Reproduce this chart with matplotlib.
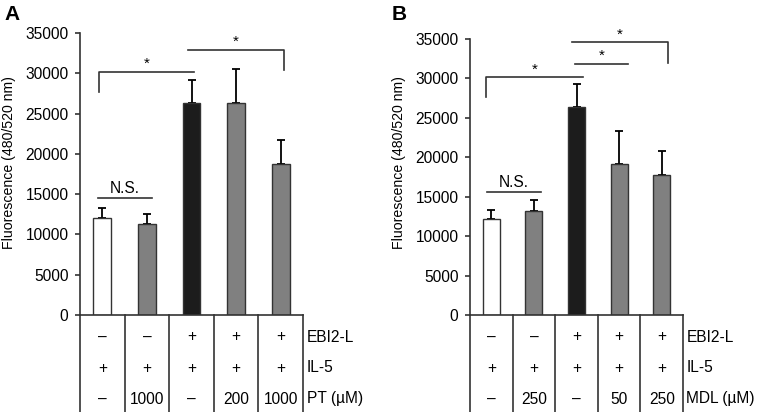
import matplotlib.pyplot as plt
import numpy as np

plt.rcParams['font.family'] = ['Liberation Sans', 'DejaVu Sans']

# panel A data
a_means = [12100, 11300, 26300, 26300, 18700]
a_errs = [1150, 1250, 2850, 4200, 3000]
a_colors = ['white', '#808080', '#1c1c1c', '#808080', '#808080']
a_ebi2 = ['\u2013', '\u2013', '+', '+', '+']
a_il5 = ['+', '+', '+', '+', '+']
a_drug = ['\u2013', '1000', '\u2013', '200', '1000']
a_drug_label = 'PT (\u00b5M)'

# panel B data
b_means = [12150, 13250, 26350, 19100, 17800]
b_errs = [1150, 1300, 2900, 4200, 3000]
b_colors = ['white', '#808080', '#1c1c1c', '#808080', '#808080']
b_ebi2 = ['\u2013', '\u2013', '+', '+', '+']
b_il5 = ['+', '+', '+', '+', '+']
b_drug = ['\u2013', '250', '\u2013', '50', '250']
b_drug_label = 'MDL (\u00b5M)'

W, H = 767, 412
fig = plt.figure(figsize=(W / 100, H / 100), dpi=100)
FS = 11.2


def px_axes(x0, x1, ytop, ybot):
    return fig.add_axes([x0 / W, 1 - ybot / H, (x1 - x0) / W, (ybot - ytop) / H])


def draw_panel(ax, means, errs, colors, ebi2, il5, drug, drug_label,
               ns, brackets, ppx, label_xy):
    # ppx: data units per pixel
    lc = '#333333'
    x = np.arange(len(means))
    ax.bar(x, means, width=0.4, color=colors, edgecolor=lc, linewidth=1.0, zorder=2)
    ax.errorbar(x, means, yerr=[np.zeros(len(errs)), errs], fmt='none',
                ecolor='black', elinewidth=1.3, capsize=3.2, capthick=1.3, zorder=1)
    ax.set_xlim(-0.5, len(means) - 0.5)
    ax.set_ylim(0, 35000)
    ax.set_yticks(np.arange(0, 35001, 5000))
    ax.set_xticks([])
    for s in ['top', 'right']:
        ax.spines[s].set_visible(False)
    for s in ['left', 'bottom']:
        ax.spines[s].set_color(lc)
        ax.spines[s].set_linewidth(1.2)
    ax.tick_params(axis='y', length=3.8, width=1.2, color=lc, labelsize=FS, pad=4.5)
    ax.set_ylabel('Fluorescence (480/520 nm)', fontsize=10.2)
    ax.yaxis.set_label_coords(*label_xy)

    # table below the axis
    ybot = -100 * ppx
    kw = dict(color=lc, lw=1.2, clip_on=False)
    for b in np.arange(len(means) + 1) - 0.5:
        ax.plot([b, b], [0, ybot], **kw)
    rows = [(-22 * ppx, ebi2, 'EBI2-L'),
            (-53 * ppx, il5, 'IL-5'),
            (-84 * ppx, drug, drug_label)]
    for y, vals, lab in rows:
        for i, v in enumerate(vals):
            ax.text(i, y, v, ha='center', va='center', fontsize=FS)
        ax.text(len(means) - 0.5 + 0.08, y, lab, ha='left', va='center', fontsize=FS)

    # N.S. line
    (n0, n1, ny) = ns
    ax.plot([n0, n1], [ny, ny], color=lc, lw=1.2, clip_on=False)
    ax.text((n0 + n1) / 2, ny + 300, 'N.S.', ha='center', va='bottom', fontsize=FS)

    # significance brackets
    for (b0, b1, by, lleg, rleg) in brackets:
        xs, ys = [b0, b1], [by, by]
        if lleg is not None:
            xs, ys = [b0] + xs, [lleg] + ys
        if rleg is not None:
            xs, ys = xs + [b1], ys + [rleg]
        ax.plot(xs, ys, color=lc, lw=1.2, clip_on=False)
        ax.text((b0 + b1) / 2, by + 100, '*', ha='center', va='bottom', fontsize=11)


axA = px_axes(80, 303, 33, 315)
draw_panel(axA, a_means, a_errs, a_colors, a_ebi2, a_il5, a_drug, a_drug_label,
           ns=(-0.1, 1.11, 14500),
           brackets=[(-0.07, 2.06, 30150, 27700, None),
                     (1.92, 4.07, 32900, None, 30400)],
           ppx=35000 / 282, label_xy=(-64 / 223, 0.54))

axB = px_axes(470, 683, 39, 315)
draw_panel(axB, b_means, b_errs, b_colors, b_ebi2, b_il5, b_drug, b_drug_label,
           ns=(-0.1, 1.17, 15600),
           brackets=[(-0.12, 2.15, 30150, 27650, None),
                     (1.96, 3.21, 31850, None, None),
                     (1.89, 4.15, 34600, None, 31950)],
           ppx=35000 / 276, label_xy=(-64 / 213, 0.554))

fig.text(4 / W, 1 - 15 / H, 'A', fontsize=15, fontweight='bold', va='center', ha='left')
fig.text(392 / W, 1 - 15 / H, 'B', fontsize=15, fontweight='bold', va='center', ha='left')

fig.savefig('out.png', dpi=100)
